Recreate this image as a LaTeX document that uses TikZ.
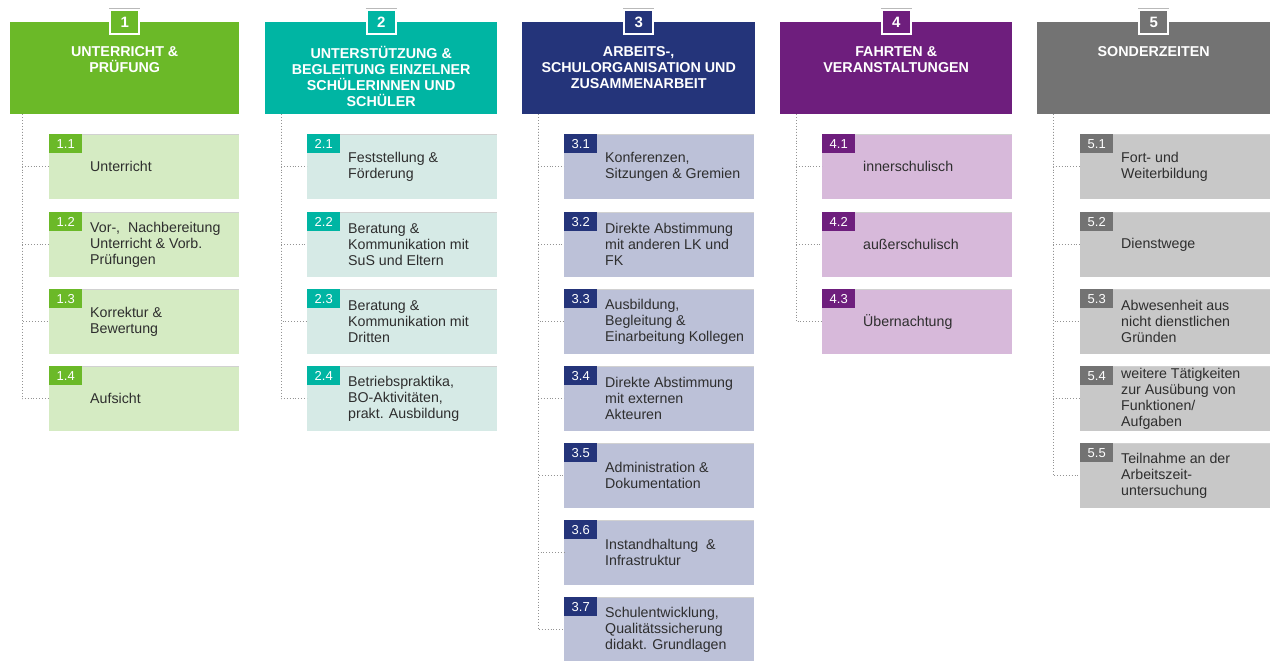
\documentclass[tikz,border=0pt]{standalone}
\usepackage{fontspec}
\setmainfont{Liberation Sans}
\definecolor{c1}{HTML}{6BB928}
\definecolor{l1}{HTML}{D5EBC3}
\definecolor{c2}{HTML}{00B5A3}
\definecolor{l2}{HTML}{D6EAE6}
\definecolor{c3}{HTML}{24347A}
\definecolor{l3}{HTML}{BCC1D8}
\definecolor{c4}{HTML}{6E1E7D}
\definecolor{l4}{HTML}{D7B9DA}
\definecolor{c5}{HTML}{737373}
\definecolor{l5}{HTML}{C8C8C8}
\definecolor{txt}{HTML}{2E2E2E}
\tikzset{
  headbox/.style={rectangle, inner sep=0pt, minimum height=92pt, anchor=north west},
  headtext/.style={anchor=north, align=center, text=white, inner sep=0pt,
    font=\fontsize{14.3}{15.8}\selectfont\bfseries},
  badge/.style={rectangle, draw=white, line width=1.6pt, minimum width=29pt,
    minimum height=24pt, inner sep=0pt, text=white,
    font=\fontsize{15}{15}\selectfont\bfseries},
  subbg/.style={rectangle, inner sep=0pt, minimum width=190pt, minimum height=65pt},
  tab/.style={rectangle, inner sep=0pt, minimum width=33pt, minimum height=19pt,
    text=white, font=\fontsize{13}{13}\selectfont},
  subtext/.style={align=left, inner sep=0pt, text=txt,
    font=\fontsize{14.2}{16}\selectfont},
  conn/.style={draw=gray!85, dotted, line width=0.9pt},
}
% one sub-category box: name, x, y, colour index, number, text
\newcommand\subbox[6]{%
  \node[subbg, fill=l#4, anchor=north west] (#1) at (#2,#3) {};
  \draw[black!18, line width=0.8pt] (#1.north west) -- (#1.north east);
  \node[tab, fill=c#4, anchor=north west] (#1n) at (#1.north west) {#5};
  \node[subtext, anchor=west, xshift=41pt] (#1t) at (#1.west) {#6};
}
% one column header: name, left x, width, colour index, number, title
\newcommand\headbox[6]{%
  \node[headbox, fill=c#4, minimum width=#3pt] (#1) at (#2,22) {};
  \node[badge, fill=c#4] (#1b) at (#1.north) {#5};
  \draw[gray!55, line width=0.7pt] ([yshift=1.3pt]#1b.north west) -- ([yshift=1.3pt]#1b.north east);
  \node[headtext] (#1t) at ([yshift=-24.5pt]#1.north) {#6};
}
\begin{document}
\begin{tikzpicture}[x=1pt,y=-1pt]
\useasboundingbox (0,0) rectangle (1270,661);
\fill[white] (0,0) rectangle (1270,661);

% column headers
\headbox{h1}{10}{229}{1}{1}{UNTERRICHT \&\\PRÜFUNG}
\headbox{h2}{265}{232}{2}{2}{UNTERSTÜTZUNG \&\\BEGLEITUNG EINZELNER\\SCHÜLERINNEN UND\\SCHÜLER}
\headbox{h3}{522}{233}{3}{3}{ARBEITS-,\\SCHULORGANISATION UND\\ZUSAMMENARBEIT}
\headbox{h4}{780}{232}{4}{4}{FAHRTEN \&\\VERANSTALTUNGEN}
\headbox{h5}{1037}{233}{5}{5}{SONDERZEITEN}

% column 1
\subbox{b11}{49}{134}{1}{1.1}{Unterricht}
\subbox{b12}{49}{212}{1}{1.2}{Vor-,\ \ Nachbereitung\\Unterricht \& Vorb.\\Prüfungen}
\subbox{b13}{49}{289}{1}{1.3}{Korrektur \&\\Bewertung}
\subbox{b14}{49}{366}{1}{1.4}{Aufsicht}

% column 2
\subbox{b21}{307}{134}{2}{2.1}{Feststellung \&\\Förderung}
\subbox{b22}{307}{212}{2}{2.2}{Beratung \&\\Kommunikation mit\\SuS und Eltern}
\subbox{b23}{307}{289}{2}{2.3}{Beratung \&\\Kommunikation mit\\Dritten}
\subbox{b24}{307}{366}{2}{2.4}{Betriebspraktika,\\BO-Aktivitäten,\\prakt. Ausbildung}

% column 3
\subbox{b31}{564}{134}{3}{3.1}{Konferenzen,\\Sitzungen \& Gremien}
\subbox{b32}{564}{212}{3}{3.2}{Direkte Abstimmung\\mit anderen LK und\\FK}
\subbox{b33}{564}{289}{3}{3.3}{Ausbildung,\\Begleitung \&\\Einarbeitung Kollegen}
\subbox{b34}{564}{366}{3}{3.4}{Direkte Abstimmung\\mit externen\\Akteuren}
\subbox{b35}{564}{443}{3}{3.5}{Administration \&\\Dokumentation}
\subbox{b36}{564}{520}{3}{3.6}{Instandhaltung\ \ \&\\Infrastruktur}
\subbox{b37}{564}{597}{3}{3.7}{Schulentwicklung,\\Qualitätssicherung\\didakt. Grundlagen}

% column 4
\subbox{b41}{822}{134}{4}{4.1}{innerschulisch}
\subbox{b42}{822}{212}{4}{4.2}{außerschulisch}
\subbox{b43}{822}{289}{4}{4.3}{Übernachtung}

% column 5
\subbox{b51}{1080}{134}{5}{5.1}{Fort- und\\Weiterbildung}
\subbox{b52}{1080}{212}{5}{5.2}{Dienstwege}
\subbox{b53}{1080}{289}{5}{5.3}{Abwesenheit aus\\nicht dienstlichen\\Gründen}
\subbox{b54}{1080}{366}{5}{5.4}{weitere Tätigkeiten\\zur Ausübung von\\Funktionen/\\Aufgaben}
\subbox{b55}{1080}{443}{5}{5.5}{Teilnahme an der\\Arbeitszeit-\\untersuchung}

% dotted connectors from each header down to its boxes
\foreach \b in {b11,b12,b13,b14}
  \draw[conn] ([xshift=12pt]h1.south west) |- (\b.west);
\foreach \b in {b21,b22,b23,b24}
  \draw[conn] ([xshift=16pt]h2.south west) |- (\b.west);
\foreach \b in {b31,b32,b33,b34,b35,b36,b37}
  \draw[conn] ([xshift=16pt]h3.south west) |- (\b.west);
\foreach \b in {b41,b42,b43}
  \draw[conn] ([xshift=16pt]h4.south west) |- (\b.west);
\foreach \b in {b51,b52,b53,b54,b55}
  \draw[conn] ([xshift=16pt]h5.south west) |- (\b.west);
\end{tikzpicture}
\end{document}
